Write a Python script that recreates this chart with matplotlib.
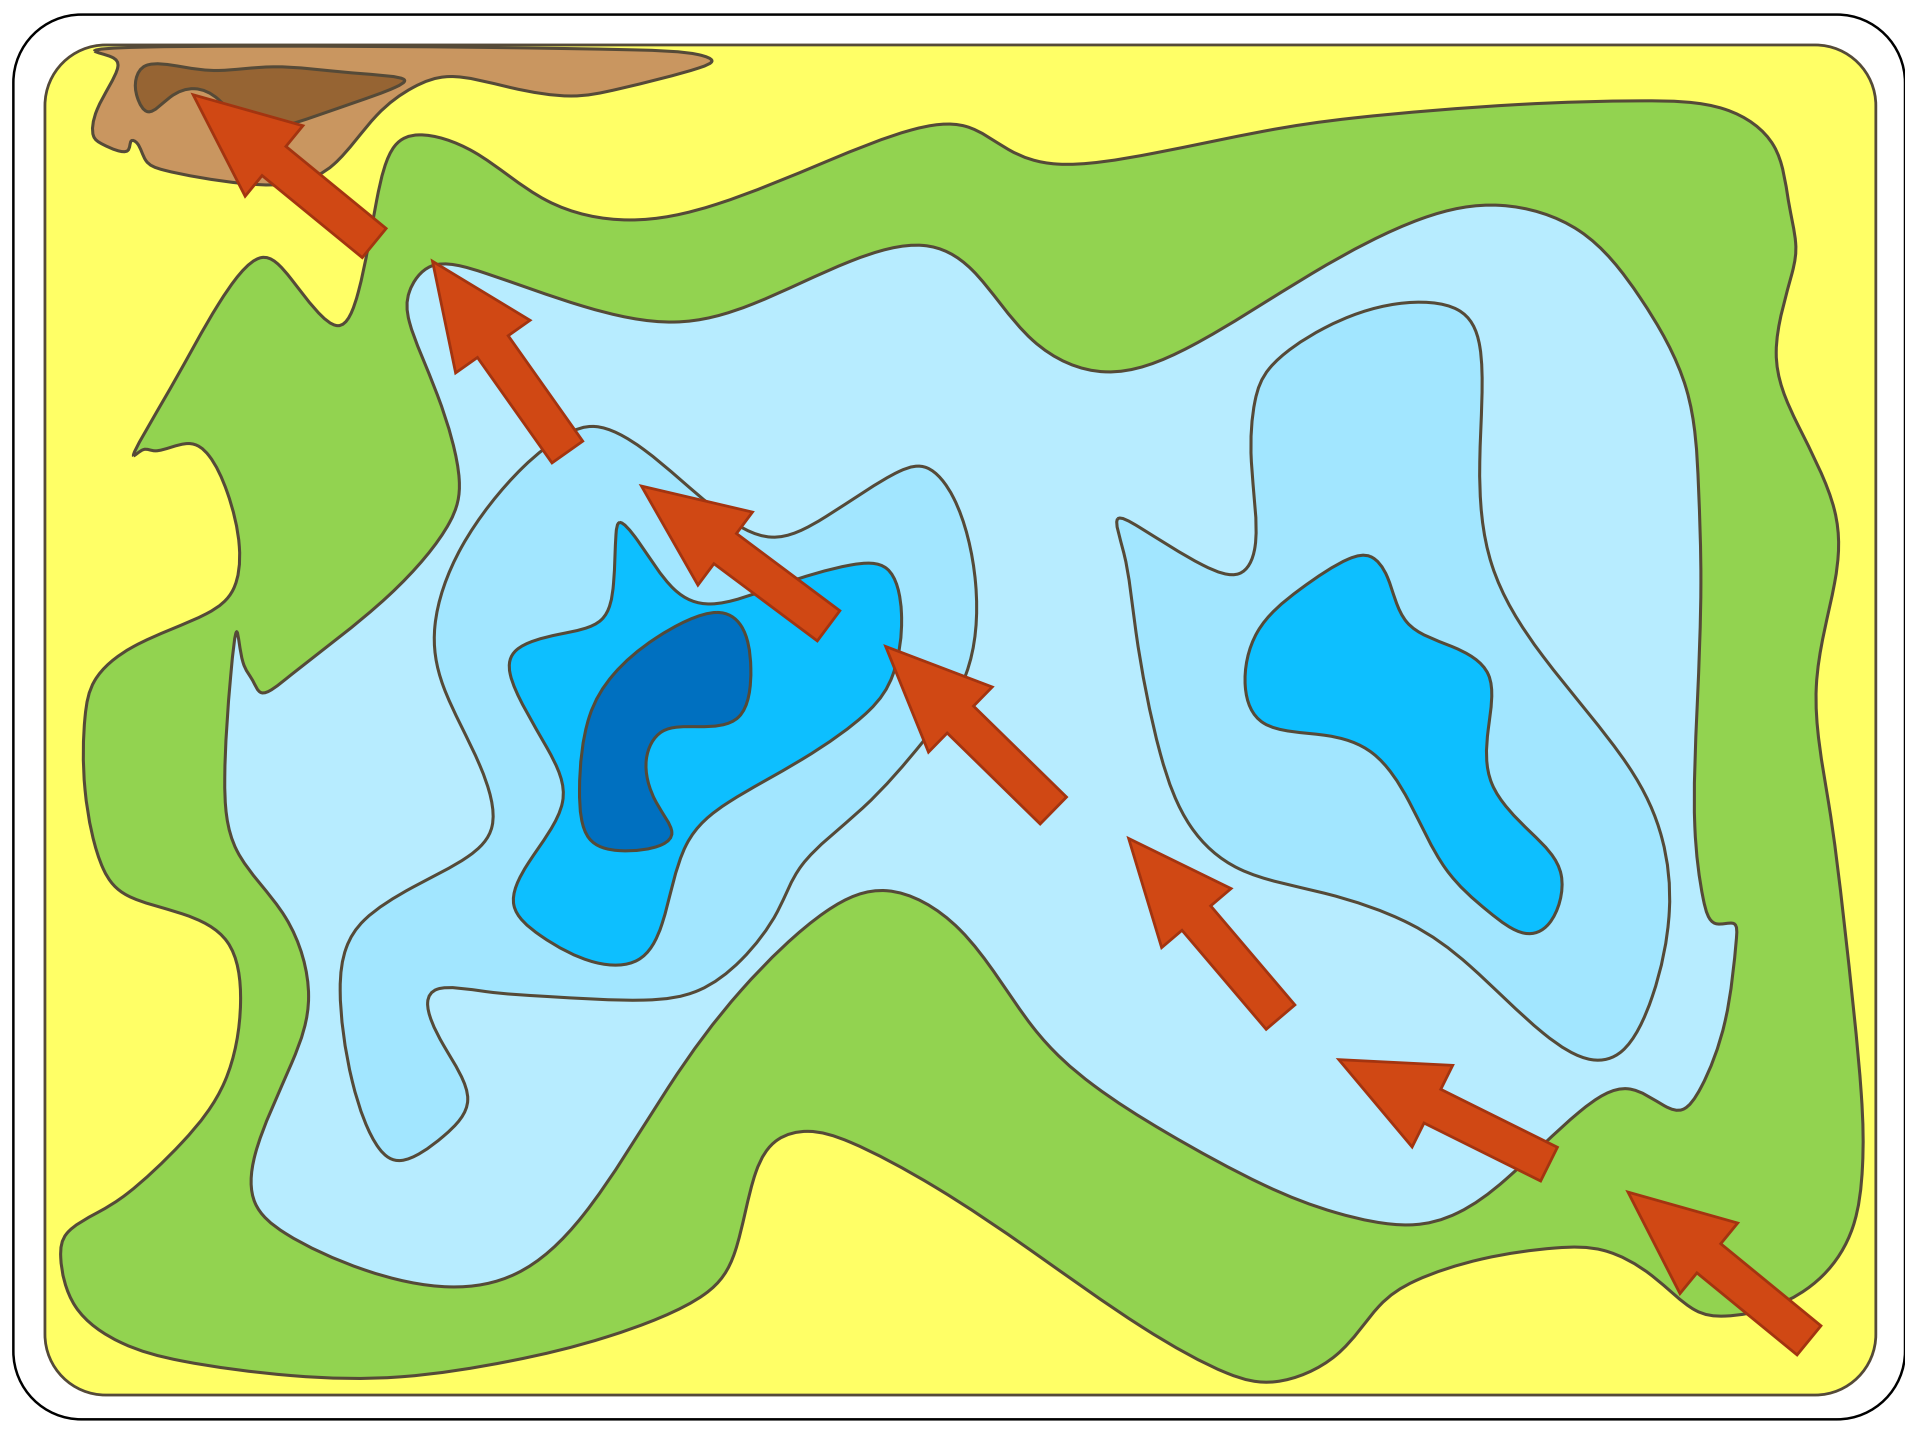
import numpy as np
import matplotlib
matplotlib.use("Agg")
import matplotlib.pyplot as plt
from matplotlib.patches import PathPatch, Polygon
from matplotlib.path import Path

# region outlines (x, y with y downwards)
tan_region = [(78,42),(200,38),(400,39),(520,41),(575,45),(586,50),(575,56),(510,73),(470,79),(420,72),(370,63),(340,72),
              (310,95),(275,135),(245,150),(200,151),(135,140),(120,132),(113,118),(108,116),(105,124),(85,119),
              (77,112),(80,90),(97,55),(92,47)]
brown_region = [(112,65),(120,54),(150,55),(180,58),(225,55),(290,60),(333,66),(325,72),(290,85),(240,102),
                (205,105),(180,82),(160,73),(140,80),(122,92),(113,80)]
green_region = [(110,375),(140,320),(180,250),(215,212),(240,230),(278,268),(295,240),(310,165),(325,120),(345,111),
                (390,125),(450,165),(518,181),(590,168),(680,133),(750,107),(795,104),(830,123),(870,135),
                (950,126),(1040,108),(1115,97),(1250,86),(1350,83),(1420,90),(1460,120),(1472,165),(1478,200),(1475,225),
                (1462,290),(1480,350),(1510,420),(1510,480),(1495,565),(1505,660),(1518,760),(1532,900),
                (1533,960),(1525,1010),(1500,1050),(1460,1075),(1420,1083),(1395,1078),(1360,1050),(1320,1029),
                (1280,1027),(1220,1036),(1165,1054),(1135,1075),(1100,1115),(1050,1137),(1010,1130),(940,1092),
                (850,1030),(770,977),(700,940),(665,931),(640,938),(622,965),(605,1030),(580,1065),
                (500,1100),(420,1120),(330,1133),(240,1132),(150,1120),(100,1105),(62,1075),(50,1035),(55,1015),(80,998),
                (105,982),(150,940),(185,890),(198,825),(187,775),(150,752),(105,737),(85,715),(70,650),(70,590),
                (78,560),(110,532),(170,505),(192,485),(197,450),(187,405),(172,375),(155,365),(128,371),(118,370)]
pale_region = [(337,240),(355,219),(400,225),(480,252),(555,265),(620,250),(700,215),(760,202),(800,222),
               (850,280),(910,306),(980,285),(1080,225),(1170,180),(1235,169),(1300,190),(1350,245),(1388,320),
               (1398,400),(1400,480),(1397,580),(1395,680),(1402,740),(1412,760),(1427,760),(1429,775),(1420,840),
               (1400,895),(1385,913),(1370,910),(1340,896),(1300,915),(1240,970),(1200,998),(1160,1008),(1100,998),
               (1040,975),(960,932),(900,893),(850,845),(790,765),(730,733),(680,750),(610,815),(550,895),(480,1000),
               (425,1048),(370,1059),(300,1045),(235,1015),(210,990),(210,950),(240,875),(254,820),(235,755),(195,700),
               (185,640),(190,555),(195,520),(200,545),(208,560),(215,570),(240,555),(320,490),(370,430),(378,395),
               (360,325),(337,265)]
mid_left = [(490,351),(530,370),(590,420),(635,442),(680,425),(740,388),(763,385),(785,410),(803,480),(795,555),
            (760,610),(710,665),(660,712),(640,750),(610,790),(575,815),(530,823),(450,820),(400,816),(360,814),(352,825),(365,860),
            (385,905),(365,935),(330,955),(312,945),(290,890),(280,815),(285,780),(300,757),(340,730),(385,705),
            (405,680),(395,630),(365,565),(358,515),(380,450),(430,385),(465,358)]
mid_right = [(920,427),(938,434),(990,465),(1020,472),(1033,450),(1030,380),(1033,330),(1045,303),(1090,270),
             (1150,250),(1200,255),(1218,285),(1218,380),(1228,465),(1270,540),(1340,630),(1368,690),(1374,750),
             (1360,820),(1335,865),(1310,872),(1270,850),(1210,795),(1160,760),(1090,735),(1020,715),(980,680),
             (955,620),(935,520),(925,455)]
bright_left = [(510,430),(525,445),(555,485),(585,497),(640,482),(700,465),(730,468),(742,505),(735,555),(715,585),
               (660,625),(600,660),(565,695),(545,760),(525,790),(490,792),(445,770),(423,745),(435,710),(463,660),
               (450,615),(420,555),(425,535),(460,522),(495,510),(505,480),(507,440)]
bright_right = [(1128,458),(1142,475),(1158,512),(1195,532),(1225,555),(1225,600),(1228,645),(1260,685),(1285,720),
                (1275,760),(1255,768),(1225,750),(1190,715),(1160,660),(1130,620),(1090,605),(1040,595),(1025,565),
                (1035,520),(1070,485),(1110,460)]
deep_region = [(590,504),(610,515),(618,550),(608,590),(575,598),(545,602),(532,625),(540,660),(553,685),(545,695),
               (510,700),(485,690),(477,650),(485,590),(505,555),(540,525)]

# arrows: tip and middle of the tail
arrow_tips = [(159,78),(356,215),(528,400),(729,532),(929,690),(1102,872),(1340,981)]
arrow_tails = [(308,200),(467,372),(682,515),(867,667),(1054,837),(1275,958),(1489,1103)]

EDGE = "#554a38"
SHAFT_W, HEAD_W, HEAD_L = 31, 75, 86


def smooth_path(pts):
    # closed C2 spline, centripetal knots so the tight turns do not overshoot too much
    pts = np.array(pts, dtype=float)
    n = len(pts)
    h = np.sqrt(np.linalg.norm(np.roll(pts, -1, axis=0) - pts, axis=1))
    A = np.zeros((n, n))
    rhs = np.zeros((n, 2))
    for i in range(n):
        hp, hn = h[i - 1], h[i]
        A[i, (i - 1) % n] += hn
        A[i, i] += 2 * (hp + hn)
        A[i, (i + 1) % n] += hp
        rhs[i] = 3 * (hn * (pts[i] - pts[i - 1]) / hp + hp * (pts[(i + 1) % n] - pts[i]) / hn)
    D = np.linalg.solve(A, rhs)
    verts = [pts[0]]
    codes = [Path.MOVETO]
    for i in range(n):
        j = (i + 1) % n
        verts += [pts[i] + D[i] * h[i] / 3, pts[j] - D[j] * h[i] / 3, pts[j]]
        codes += [Path.CURVE4] * 3
    return Path(verts, codes)


def round_rect(x0, y0, x1, y1, r):
    k = r * 0.4477
    verts = [(x0 + r, y0), (x1 - r, y0), (x1 - k, y0), (x1, y0 + k), (x1, y0 + r),
             (x1, y1 - r), (x1, y1 - k), (x1 - k, y1), (x1 - r, y1),
             (x0 + r, y1), (x0 + k, y1), (x0, y1 - k), (x0, y1 - r),
             (x0, y0 + r), (x0, y0 + k), (x0 + k, y0), (x0 + r, y0)]
    codes = [Path.MOVETO, Path.LINETO, Path.CURVE4, Path.CURVE4, Path.CURVE4,
             Path.LINETO, Path.CURVE4, Path.CURVE4, Path.CURVE4,
             Path.LINETO, Path.CURVE4, Path.CURVE4, Path.CURVE4,
             Path.LINETO, Path.CURVE4, Path.CURVE4, Path.CURVE4]
    return Path(verts, codes)


def arrow_outline(tip, tail):
    tip = np.array(tip, dtype=float)
    tail = np.array(tail, dtype=float)
    d = (tail - tip) / np.linalg.norm(tail - tip)
    n = np.array([-d[1], d[0]])
    base = tip + d * HEAD_L
    return [tip, base + n * HEAD_W / 2, base + n * SHAFT_W / 2, tail + n * SHAFT_W / 2,
            tail - n * SHAFT_W / 2, base - n * SHAFT_W / 2, base - n * HEAD_W / 2]


fig = plt.figure(figsize=(19.05, 14.4), dpi=100)
ax = fig.add_axes([0, 0, 1, 1])
ax.set_xlim(0, 1568)
ax.set_ylim(1185, 0)
ax.axis("off")

ax.add_patch(PathPatch(round_rect(11, 12, 1568, 1168, 56), fc="white", ec="black", lw=1.8))
ax.add_patch(PathPatch(round_rect(37, 37, 1544, 1148, 50), fc="#ffff66", ec=EDGE, lw=2))

regions = [(tan_region, "#c99660"), (brown_region, "#966433"), (green_region, "#92d350"),
           (pale_region, "#b7ecff"), (mid_left, "#a2e6ff"), (mid_right, "#a2e6ff"),
           (bright_left, "#0dbfff"), (bright_right, "#0dbfff"), (deep_region, "#0070c0")]
for outline, colour in regions:
    ax.add_patch(PathPatch(smooth_path(outline), fc=colour, ec=EDGE, lw=2.2))

for tip, tail in zip(arrow_tips, arrow_tails):
    ax.add_patch(Polygon(arrow_outline(tip, tail), closed=True, fc="#d04814", ec="#a33410", lw=2, joinstyle="miter"))

fig.savefig("out.png", dpi=100)
